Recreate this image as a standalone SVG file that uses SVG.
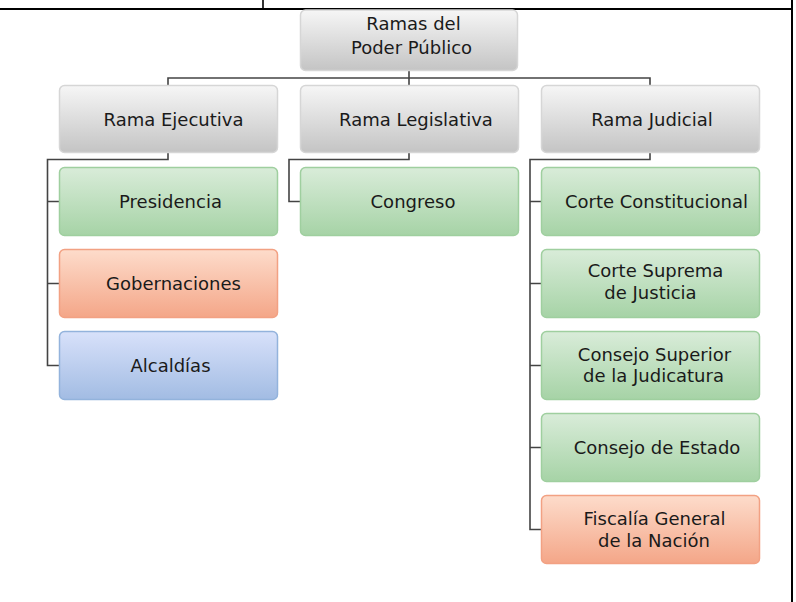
<svg xmlns="http://www.w3.org/2000/svg" width="796" height="602" viewBox="0 0 796 602">
<defs>
<linearGradient id="gGray" x1="0" y1="0" x2="0" y2="1"><stop offset="0" stop-color="#f6f6f6"/><stop offset="1" stop-color="#c4c4c4"/></linearGradient>
<linearGradient id="gGreen" x1="0" y1="0" x2="0" y2="1"><stop offset="0" stop-color="#d9ecd9"/><stop offset="1" stop-color="#a6d3a6"/></linearGradient>
<linearGradient id="gOrange" x1="0" y1="0" x2="0" y2="1"><stop offset="0" stop-color="#fddccb"/><stop offset="1" stop-color="#f4a688"/></linearGradient>
<linearGradient id="gBlue" x1="0" y1="0" x2="0" y2="1"><stop offset="0" stop-color="#d8e1fa"/><stop offset="1" stop-color="#a2bce3"/></linearGradient>
</defs>
<style>
.box{stroke-width:1.5}
.gray{fill:url(#gGray);stroke:#d6d6d6}
.green{fill:url(#gGreen);stroke:#9fcf9f}
.orange{fill:url(#gOrange);stroke:#f2a183}
.blue{fill:url(#gBlue);stroke:#93b3dc}
text{font-family:"DejaVu Sans",sans-serif;font-size:18px;fill:#1a1a1a;text-anchor:middle}
.conn{fill:none;stroke:#444;stroke-width:1.6}
.frame{stroke:#000;fill:none}
</style>
<rect width="796" height="602" fill="#fff"/>
<g id="frame">
<line class="frame" x1="0" y1="9" x2="793" y2="9" stroke-width="2"/>
<line class="frame" x1="263" y1="0" x2="263" y2="9" stroke-width="1.6"/>
<line class="frame" x1="792" y1="0" x2="792" y2="602" stroke-width="2"/>
</g>
<g id="connectors">
<path class="conn" d="M409 70 V85 M168 85 V78 H650 V85"/>
<path class="conn" d="M168 152.5 V159.5 H47.5 V365.5 H60 M47.5 201.5 H60 M47.5 283.5 H60"/>
<path class="conn" d="M409 152.5 V159.5 H289 V201.5 H301"/>
<path class="conn" d="M650 152.5 V159.5 H530 V529.5 H542 M530 201.5 H542 M530 283.5 H542 M530 365.5 H542 M530 447.5 H542"/>
</g>
<g id="root"><rect class="box gray" x="300.5" y="10" width="217" height="60.5" rx="5"/><text x="413.5" y="30">Ramas del</text><text x="411.5" y="54">Poder Público</text></g>
<g id="ejecutiva"><rect class="box gray" x="59.5" y="85.5" width="218" height="67" rx="5"/><text x="173.5" y="125.5">Rama Ejecutiva</text></g>
<g id="legislativa"><rect class="box gray" x="300.5" y="85.5" width="218" height="67" rx="5"/><text x="416" y="125.5">Rama Legislativa</text></g>
<g id="judicial"><rect class="box gray" x="541.5" y="85.5" width="218" height="67" rx="5"/><text x="652" y="125.5">Rama Judicial</text></g>
<g id="presidencia"><rect class="box green" x="59.5" y="167.5" width="218" height="68" rx="5"/><text x="170.5" y="207.5">Presidencia</text></g>
<g id="gobernaciones"><rect class="box orange" x="59.5" y="249.5" width="218" height="68" rx="5"/><text x="173.5" y="289.5">Gobernaciones</text></g>
<g id="alcaldias"><rect class="box blue" x="59.5" y="331.5" width="218" height="68" rx="5"/><text x="170.5" y="371.5">Alcaldías</text></g>
<g id="congreso"><rect class="box green" x="300.5" y="167.5" width="218" height="68" rx="5"/><text x="413" y="207.5">Congreso</text></g>
<g id="corte-constitucional"><rect class="box green" x="541.5" y="167.5" width="218" height="68" rx="5"/><text x="656.5" y="207.5">Corte Constitucional</text></g>
<g id="corte-suprema"><rect class="box green" x="541.5" y="249.5" width="218" height="68" rx="5"/><text x="655.5" y="277">Corte Suprema</text><text x="650.5" y="299">de Justicia</text></g>
<g id="consejo-superior"><rect class="box green" x="541.5" y="331.5" width="218" height="68" rx="5"/><text x="654.5" y="360.5">Consejo Superior</text><text x="653.5" y="381.5">de la Judicatura</text></g>
<g id="consejo-estado"><rect class="box green" x="541.5" y="413.5" width="218" height="68" rx="5"/><text x="657" y="453.5">Consejo de Estado</text></g>
<g id="fiscalia"><rect class="box orange" x="541.5" y="495.5" width="218" height="68" rx="5"/><text x="654.5" y="524.5">Fiscalía General</text><text x="654" y="546.5">de la Nación</text></g>
</svg>
